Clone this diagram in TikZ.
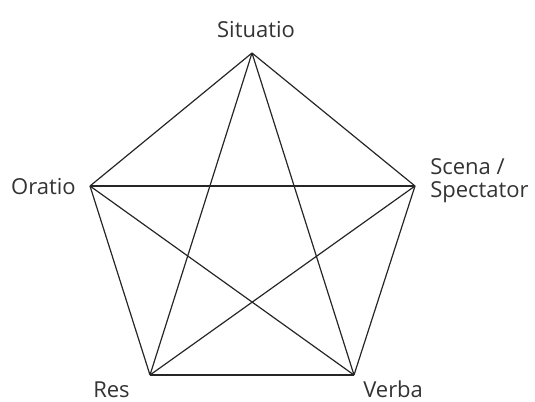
\documentclass[tikz,border=0pt]{standalone}
\usepackage{fontspec}
\setmainfont{Open Sans}
\usetikzlibrary{positioning}
\tikzset{
  edge/.style={line width=0.9pt,black!85},
  lbl/.style={font=\fontsize{16.5}{17.25}\selectfont,text=black!80,inner sep=0pt},
}
\begin{document}
\begin{tikzpicture}[x=0.75pt,y=-0.75pt]
  \useasboundingbox (0,0) rectangle (535,401);
  % corners of the pentagon
  \coordinate (sit) at (252,53);
  \coordinate (ora) at (90,186);
  \coordinate (sce) at (415,186);
  \coordinate (res) at (150,375);
  \coordinate (ver) at (354,375);
  % labels
  \node[lbl,anchor=base] (lsit) at (256,37) {Situatio};
  \node[lbl,anchor=base east] (lora) at (76,194) {Oratio};
  \node[lbl,anchor=base west,align=left] (lsce) at (430,197) {Scena /\\Spectator};
  \node[lbl,anchor=base east] (lres) at (130,397) {Res};
  \node[lbl,anchor=base west] (lver) at (363,397) {Verba};
  % every pair joined
  \foreach \a/\b in {sit/ora,sit/sce,ora/res,sce/ver,res/ver,
                     sit/res,sit/ver,ora/sce,ora/ver,sce/res}
    \draw[edge] (\a) -- (\b);
\end{tikzpicture}
\end{document}
